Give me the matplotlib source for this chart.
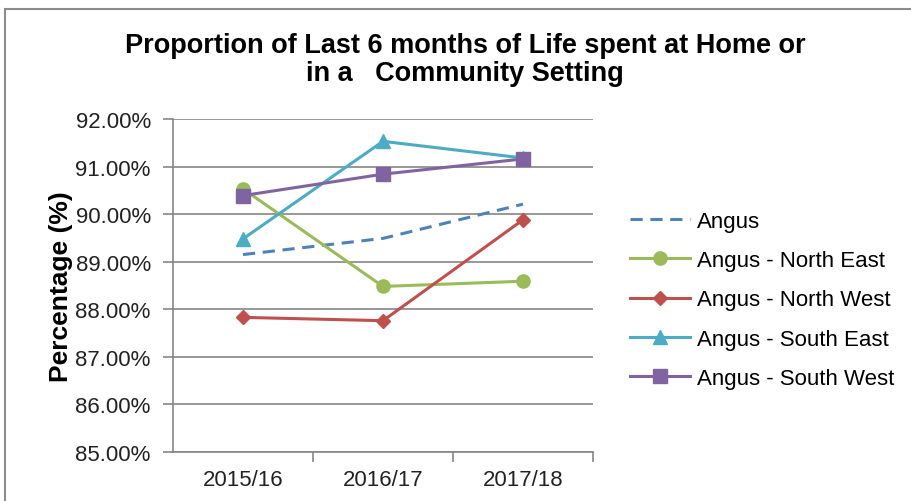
import matplotlib
matplotlib.use('Agg')
import matplotlib.pyplot as plt
import matplotlib.patches as patches
from matplotlib.ticker import FuncFormatter

plt.rcParams['font.family'] = ['Liberation Sans', 'DejaVu Sans']

# --- datos ---
years = ['2015/16', '2016/17', '2017/18']
angus = [89.15, 89.49, 90.21]
north_east = [90.53, 88.48, 88.59]
north_west = [87.83, 87.76, 89.88]
south_east = [89.48, 91.53, 91.18]
south_west = [90.39, 90.84, 91.16]

fig = plt.figure(figsize=(9.12, 5.02), dpi=100)
ax = fig.add_axes([0.1897, 0.0976, 0.4605, 0.6634])

x = range(len(years))
ax.plot(x, angus, color='#4F81BD', lw=2.2, ls=(0, (4, 2.5)), label='Angus')
ax.plot(x, north_east, color='#9BBB59', lw=2.2, marker='o', ms=9.5, label='Angus - North East')
ax.plot(x, north_west, color='#C0504D', lw=2.2, marker='D', ms=7.5, label='Angus - North West')
ax.plot(x, south_east, color='#4BACC6', lw=2.2, marker='^', ms=10, label='Angus - South East')
ax.plot(x, south_west, color='#8064A2', lw=2.2, marker='s', ms=10.5, label='Angus - South West')

# ejes
ax.set_xlim(-0.5, 2.5)
ax.set_ylim(85, 92)
ax.set_yticks(range(85, 93))
ax.yaxis.set_major_formatter(FuncFormatter(lambda v, p: f'{v:.2f}%'))
ax.set_xticks(list(x))
ax.set_xticklabels(years)
ax.set_xticks([0.5, 1.5, 2.5], minor=True)
ax.tick_params(axis='x', which='major', length=0, labelsize=16, pad=12, colors='#222222')
ax.tick_params(axis='x', which='minor', length=7, width=1.2, color='#868686')
ax.tick_params(axis='y', length=7, width=1.2, color='#868686', labelsize=16, labelcolor='#222222', pad=9)
ax.grid(axis='y', color='#868686', lw=1.2)
ax.set_axisbelow(True)
for s in ['top', 'right']:
    ax.spines[s].set_visible(False)
for s in ['left', 'bottom']:
    ax.spines[s].set_color('#868686')
    ax.spines[s].set_linewidth(1.2)

ax.set_ylabel('Percentage (%)', fontsize=19, fontweight='bold', labelpad=2)

fig.text(0.51, 0.880, 'Proportion of Last 6 months of Life spent at Home or\nin a   Community Setting',
         ha='center', va='center', fontsize=19.5, fontweight='bold', linespacing=1.1)

fig.legend(loc='upper left', bbox_to_anchor=(0.669, 0.6175), frameon=False,
           fontsize=16, handlelength=2.7, handletextpad=0.3, labelspacing=0.82)

# borde del gráfico
fig.patches.append(patches.Rectangle((0.0055, -0.1), 1.2, 1.08, transform=fig.transFigure,
                                     fill=False, edgecolor='#8c8c8c', lw=1.5))

plt.savefig('out.png', dpi=100)
